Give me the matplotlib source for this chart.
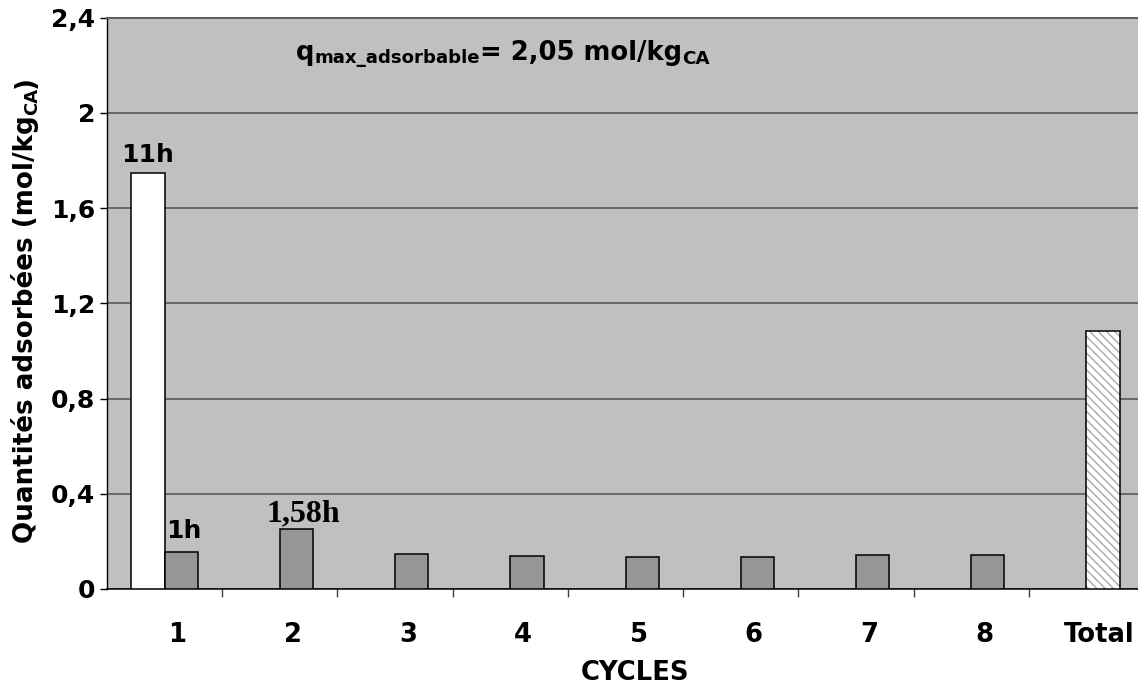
import matplotlib
matplotlib.use("Agg")
import matplotlib.pyplot as plt
import matplotlib.transforms as mtransforms
import numpy as np


# --------------------------------
# DATA
# --------------------------------

cycles = ["1", "2", "3", "4", "5", "6", "7", "8", "Total"]

first_cycle_11h = [1.745]

cycle_values = [0.155, 0.25, 0.146, 0.139, 0.136, 0.133, 0.141, 0.143]

total_value = [1.085]

bar_labels = ["11h", "1h", "1,58h"]

y_ticks = [0, 0.4, 0.8, 1.2, 1.6, 2.0, 2.4]
y_tick_labels = ["0", "0,4", "0,8", "1,2", "1,6", "2", "2,4"]


# --------------------------------
# FIGURE
# --------------------------------

plt.rcParams["font.family"] = ["DejaVu Sans"]

W, H = 1138, 685

fig = plt.figure(figsize=(W / 100, H / 100), dpi=100)

ax = fig.add_axes([
    107 / W,
    (H - 589) / H,
    (1144 - 107) / W,
    (589 - 17.5) / H
])

ax.set_facecolor("#c0c0c0")


# --------------------------------
# BARS
# --------------------------------

x = np.arange(len(cycles)) + 0.5
bw = 0.289

ax.bar(
    x[:1] - bw / 2,
    first_cycle_11h,
    bw,
    color="white",
    edgecolor="black",
    linewidth=1.1,
    zorder=3
)

ax.bar(
    x[:8] + bw / 2,
    cycle_values,
    bw,
    color="#969696",
    edgecolor="black",
    linewidth=1.1,
    zorder=3
)

plt.rcParams["hatch.linewidth"] = 1.0

ax.bar(
    x[8:] + bw / 2,
    total_value,
    bw,
    color="white",
    edgecolor="#a8a8a8",
    hatch="\\\\\\\\",
    linewidth=0,
    zorder=3
)

ax.bar(
    x[8:] + bw / 2,
    total_value,
    bw,
    fill=False,
    edgecolor="black",
    linewidth=1.1,
    zorder=4
)


# --------------------------------
# BAR LABELS
# --------------------------------

ax.annotate(
    bar_labels[0],
    (x[0] - bw / 2, first_cycle_11h[0]),
    xytext=(0, 8),
    textcoords="offset points",
    ha="center",
    va="baseline",
    fontsize=18,
    weight="bold"
)

ax.annotate(
    bar_labels[1],
    (x[0] + bw / 2, cycle_values[0]),
    xytext=(1.5, 10),
    textcoords="offset points",
    ha="center",
    va="baseline",
    fontsize=18,
    weight="bold"
)

ax.annotate(
    bar_labels[2],
    (x[1] + bw / 2, cycle_values[1]),
    xytext=(4.7, 5.8),
    textcoords="offset points",
    ha="center",
    va="baseline",
    fontsize=23,
    family="Liberation Serif",
    weight="bold"
)


# --------------------------------
# AXES
# --------------------------------

ax.set_xlim(0, 9)
ax.set_ylim(0, 2.4)

ax.set_yticks(y_ticks, y_tick_labels)
ax.set_xticks(x, cycles)
ax.set_xticks(np.arange(1, 9), minor=True)

ax.tick_params(axis="x", which="major", length=0, pad=23.5,
               labelsize=18.6)
ax.tick_params(axis="x", which="minor", length=5.8, width=1,
               color="#404040")
ax.tick_params(axis="y", length=5, width=1, pad=3.6,
               labelsize=18)

for lbl in ax.get_xticklabels() + ax.get_yticklabels():
    lbl.set_fontweight("bold")

# labels sit a little right of the category centre
shift = mtransforms.ScaledTranslation(0.13, 0, fig.dpi_scale_trans)
for lbl in ax.get_xticklabels():
    lbl.set_transform(lbl.get_transform() + shift)

ax.yaxis.grid(True, color="#505050", linewidth=1.1)
ax.set_axisbelow(True)

ax.spines["right"].set_visible(False)
ax.spines["top"].set_color("#606060")
ax.spines["top"].set_linewidth(1.5)
ax.spines["left"].set_linewidth(1.0)
ax.spines["bottom"].set_linewidth(1.1)

ax.set_xlabel("CYCLES", fontsize=18.6, weight="bold")
ax.xaxis.set_label_coords((635 - 107) / 1037, (589 - 660) / 571.5)


# --------------------------------
# TEXT WITH SUBSCRIPTS
# --------------------------------

renderer = fig.canvas.get_renderer()


def place_pieces(pieces, x0, y0, rotated=False):

    pos = y0 if rotated else x0

    for text, size, sub in pieces:

        if rotated:
            t = fig.text(
                (x0 + sub) / W, pos / H, text,
                rotation=90, rotation_mode="anchor",
                ha="left", va="baseline",
                fontsize=size, weight="bold"
            )
            pos = t.get_window_extent(renderer).y1

        else:
            t = fig.text(
                pos / W, (y0 - sub) / H, text,
                ha="left", va="baseline",
                fontsize=size, weight="bold"
            )
            pos = t.get_window_extent(renderer).x1


place_pieces(
    [
        ("q", 18.6, 0),
        ("max_adsorbable", 13.1, 3),
        ("= 2,05 mol/kg", 18.6, 0),
        ("CA", 13.2, 4),
    ],
    296, H - 60
)

place_pieces(
    [
        ("Quantités adsorbées (mol/kg", 18.8, 0),
        ("CA", 13, 4),
        (")", 18.8, 0),
    ],
    33, H - 543,
    rotated=True
)


fig.savefig("out.png", dpi=100)
